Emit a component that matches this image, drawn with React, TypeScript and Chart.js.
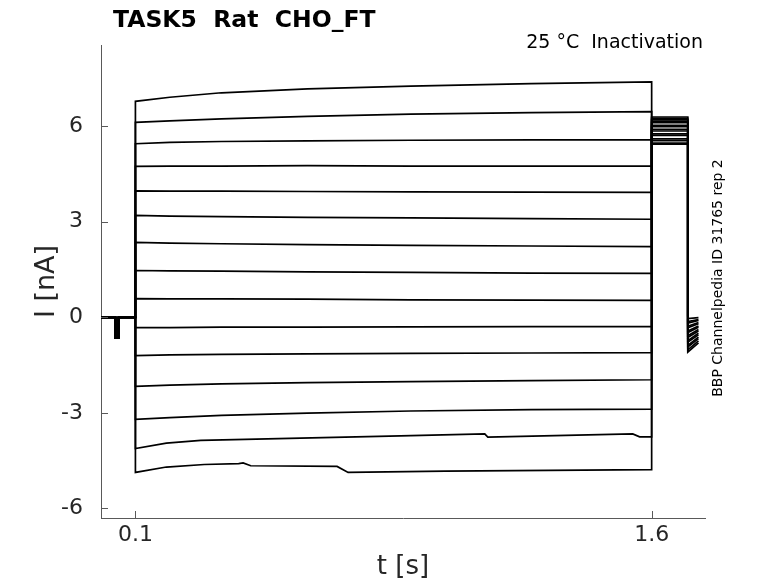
import { useEffect, useRef } from "react"
import Chart from "chart.js/auto"

// axis ticks
const yTicks = [-6, -3, 0, 3, 6]
const xTicks = [0.1, 1.6]

// holding period with the short capacitive dip (same for all sweeps)
const holdTimes = [0, 0.042, 0.042, 0.051, 0.051, 0.1]
const holdCurrents = [0, 0, -0.65, -0.65, 0, 0]

// conditioning pulse, sweeps 1-13 sampled on a common time grid
const prepulseTimes = [0.1, 0.2, 0.35, 0.6, 0.9, 1.25, 1.6]
const prepulseCurrents = [
  [6.78, 6.91, 7.05, 7.17, 7.26, 7.34, 7.39],
  [6.12, 6.17, 6.23, 6.31, 6.38, 6.43, 6.46],
  [5.45, 5.49, 5.52, 5.54, 5.56, 5.57, 5.57],
  [4.74, 4.75, 4.75, 4.76, 4.75, 4.75, 4.75],
  [3.97, 3.96, 3.96, 3.95, 3.94, 3.93, 3.92],
  [3.2, 3.18, 3.16, 3.14, 3.12, 3.1, 3.08],
  [2.35, 2.33, 2.31, 2.28, 2.26, 2.24, 2.22],
  [1.47, 1.46, 1.45, 1.43, 1.41, 1.39, 1.38],
  [0.59, 0.58, 0.58, 0.57, 0.55, 0.54, 0.53],
  [-0.32, -0.32, -0.31, -0.31, -0.3, -0.29, -0.29],
  [-1.2, -1.18, -1.16, -1.15, -1.13, -1.12, -1.11],
  [-2.17, -2.13, -2.09, -2.05, -2.02, -1.99, -1.96],
  [-3.2, -3.15, -3.08, -3.01, -2.94, -2.9, -2.88],
]

// sweeps 14 and 15 have small jumps, so they get their own samples
const sweep14Times = [0.1, 0.19, 0.29, 0.58, 0.87, 1.115, 1.124, 1.545, 1.565, 1.6]
const sweep14Currents = [-4.12, -3.95, -3.86, -3.79, -3.72, -3.66, -3.76, -3.66, -3.75, -3.75]
const sweep15Times = [0.1, 0.19, 0.3, 0.4, 0.413, 0.435, 0.686, 0.718, 1.0, 1.6]
const sweep15Currents = [-4.87, -4.7, -4.62, -4.59, -4.57, -4.66, -4.68, -4.87, -4.83, -4.78]

// test pulse and return to holding
const testTimes = [1.6, 1.705]
const testCurrents = [5.44, 5.47, 5.55, 5.6, 5.71, 5.76, 5.85, 5.9, 5.99, 6.03, 6.11, 6.15, 6.2, 6.25, 6.29]
const tailTimes = [1.705, 1.736]
const tailStartCurrents = [-0.04, -0.13, -0.18, -0.28, -0.33, -0.43, -0.48, -0.58, -0.63, -0.73, -0.78, -0.88, -0.93, -1.02, -1.09]
const tailEndCurrents = [-0.01, -0.07, -0.1, -0.16, -0.2, -0.27, -0.31, -0.38, -0.43, -0.5, -0.55, -0.62, -0.67, -0.74, -0.8]

const FONT = "'DejaVu Sans', sans-serif"
const TEXT_COLOR = "#262626"
const AXIS_COLOR = "#595959"

const prepulseTraces = [
  ...prepulseCurrents.map((c) => ({ t: prepulseTimes, i: c })),
  { t: sweep14Times, i: sweep14Currents },
  { t: sweep15Times, i: sweep15Currents },
]

function buildSweep(k: number) {
  const pts: { x: number; y: number }[] = []
  holdTimes.forEach((t, j) => pts.push({ x: t, y: holdCurrents[j] }))
  const pre = prepulseTraces[k]
  pre.t.forEach((t, j) => pts.push({ x: t, y: pre.i[j] }))
  testTimes.forEach((t) => pts.push({ x: t, y: testCurrents[k] }))
  pts.push({ x: tailTimes[0], y: tailStartCurrents[k] })
  pts.push({ x: tailTimes[1], y: tailEndCurrents[k] })
  return pts
}

const decorations = {
  id: "decorations",
  afterDraw(chart: any) {
    const { ctx, chartArea, scales } = chart
    ctx.save()
    // inward tick marks
    ctx.strokeStyle = AXIS_COLOR
    ctx.lineWidth = 1
    yTicks.forEach((v) => {
      const y = Math.round(scales.y.getPixelForValue(v)) + 0.5
      ctx.beginPath()
      ctx.moveTo(chartArea.left, y)
      ctx.lineTo(chartArea.left + 7, y)
      ctx.stroke()
    })
    xTicks.forEach((v) => {
      const x = Math.round(scales.x.getPixelForValue(v)) + 0.5
      ctx.beginPath()
      ctx.moveTo(x, chartArea.bottom)
      ctx.lineTo(x, chartArea.bottom - 7)
      ctx.stroke()
    })
    // texts
    ctx.fillStyle = "#000"
    ctx.textBaseline = "alphabetic"
    ctx.textAlign = "left"
    ctx.font = `bold 23.5px ${FONT}`
    ctx.fillText("TASK5  Rat  CHO_FT", 113, 27)
    ctx.font = `19px ${FONT}`
    ctx.textAlign = "right"
    ctx.fillText("25 °C  Inactivation", 703, 48)
    ctx.translate(718, 278)
    ctx.rotate(-Math.PI / 2)
    ctx.textAlign = "center"
    ctx.textBaseline = "middle"
    ctx.font = `14px ${FONT}`
    ctx.fillText("BBP Channelpedia ID 31765 rep 2", 0, 0)
    ctx.restore()
  },
}

function TraceChart() {
  const chartRef = useRef<HTMLCanvasElement | null>(null)
  const chartInstance = useRef<Chart | null>(null)

  useEffect(() => {
    if (chartRef.current) {
      if (chartInstance.current) {
        chartInstance.current.destroy()
      }
      const ctx = chartRef.current.getContext("2d")!
      chartInstance.current = new Chart(ctx, {
        type: "line",
        data: {
          datasets: prepulseTraces.map((_, k) => ({
            data: buildSweep(k),
            borderColor: "#000",
            borderWidth: 1.7,
            pointRadius: 0,
            fill: false,
            tension: 0,
          })),
        },
        options: {
          responsive: true,
          maintainAspectRatio: false,
          animation: false,
          parsing: false as any,
          layout: { padding: { top: 45, right: 73, left: 0, bottom: 0 } },
          plugins: {
            legend: { display: false },
            tooltip: { enabled: false },
          },
          scales: {
            x: {
              type: "linear",
              min: 0,
              max: 1.755,
              afterBuildTicks: (s: any) => {
                s.ticks = xTicks.map((value) => ({ value }))
              },
              afterFit: (s: any) => {
                s.height = 65
              },
              grid: { display: false, drawTicks: false },
              border: { display: true, color: AXIS_COLOR, width: 1 },
              ticks: {
                autoSkip: false,
                maxRotation: 0,
                padding: 4,
                color: TEXT_COLOR,
                font: { family: FONT, size: 22 },
              },
              title: {
                display: true,
                text: "t [s]",
                color: TEXT_COLOR,
                font: { family: FONT, size: 26 },
                padding: { top: 0, bottom: 0 },
              },
            },
            y: {
              type: "linear",
              min: -6.3,
              max: 8.55,
              afterBuildTicks: (s: any) => {
                s.ticks = yTicks.map((value) => ({ value }))
              },
              afterFit: (s: any) => {
                s.width = 101
              },
              grid: { display: false, drawTicks: false },
              border: { display: true, color: AXIS_COLOR, width: 1 },
              ticks: {
                autoSkip: false,
                padding: 18,
                color: TEXT_COLOR,
                font: { family: FONT, size: 22 },
              },
              title: {
                display: true,
                text: "I [nA]",
                color: TEXT_COLOR,
                font: { family: FONT, size: 27 },
                padding: { top: 31, bottom: 0 },
              },
            },
          },
        },
        plugins: [decorations],
      })
    }

    return () => {
      if (chartInstance.current) {
        chartInstance.current.destroy()
        chartInstance.current = null
      }
    }
  }, [])

  return <canvas ref={chartRef} />
}

export default function App() {
  return (
    <div style={{ position: "fixed", left: 0, top: 0, width: 778, height: 583, background: "#fff" }}>
      <TraceChart />
    </div>
  )
}
